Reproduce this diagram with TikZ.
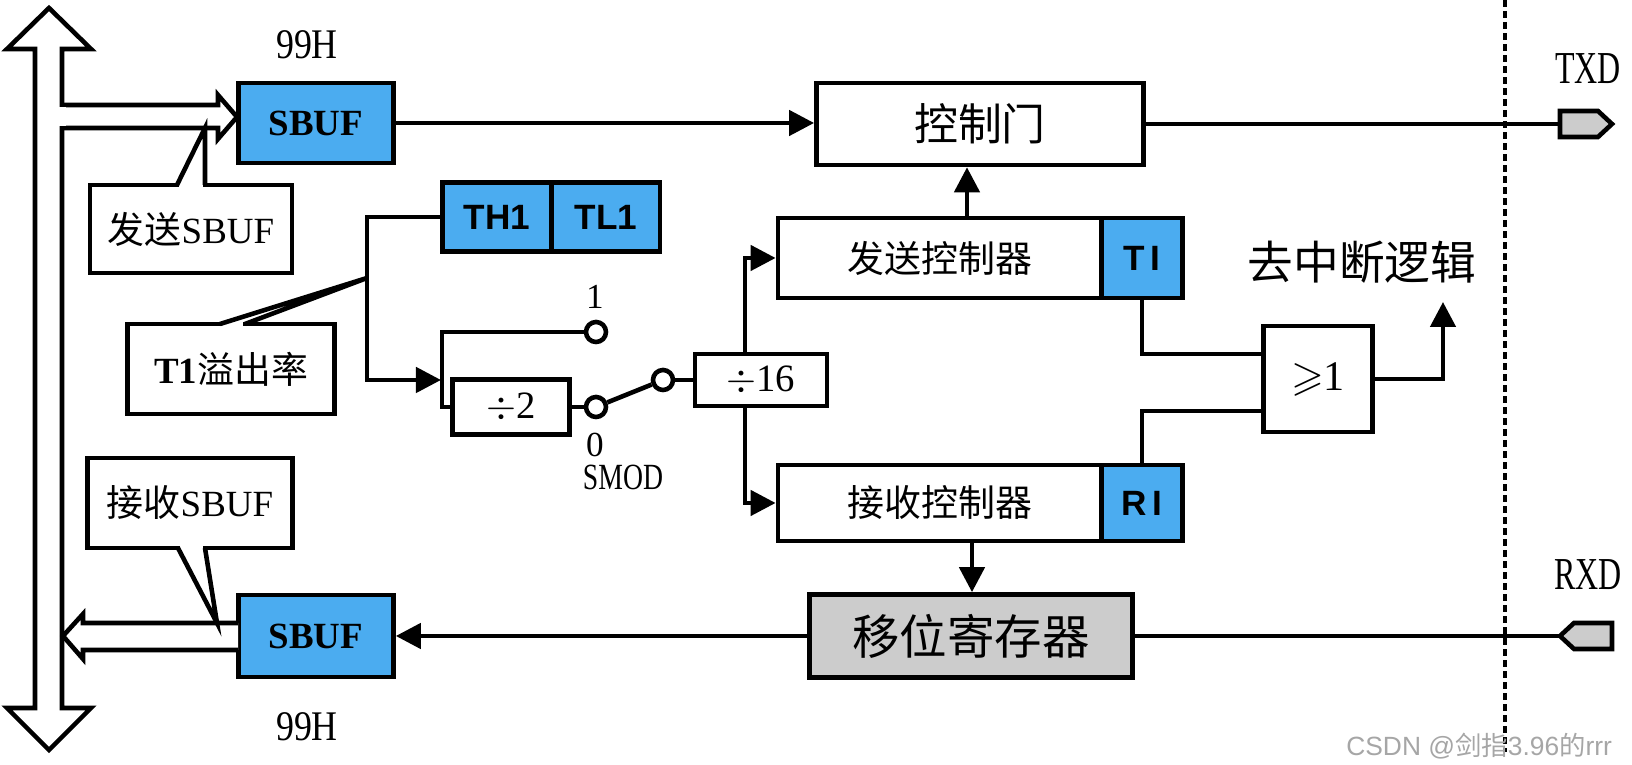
\documentclass[tikz,border=0pt]{standalone}
\usepackage{amssymb}
\usepackage{fontspec}
\usepackage{graphicx}
\setmainfont{Liberation Serif}
\newfontfamily\cjk{Noto Sans CJK SC}
\newfontfamily\hsans{Liberation Sans}
\usetikzlibrary{arrows.meta}
\definecolor{regblue}{HTML}{4BACF0}
\definecolor{pingray}{HTML}{CCCCCC}
\newcommand{\fsz}[1]{\fontsize{#1}{#1}\selectfont}
\newcommand{\cnd}[2][0.75]{\scalebox{#1}[1]{#2}}

\begin{document}
\begin{tikzpicture}[x=0.01cm,y=-0.01cm,line width=1.3pt,line join=miter,
  box/.style={draw,inner sep=0pt,fill=white},
  reg/.style={box,fill=regblue},
  arr/.style={-{Triangle[length=0.25cm,width=0.25cm]}},
  pin/.style={draw,fill=pingray},
  dot/.style={circle,draw,fill=white,inner sep=0pt,minimum size=0.2cm}]
  \useasboundingbox (0,0) rectangle (1632,765);

  % system bus (double arrow)
  \draw[fill=white] (35,708) -- (35,49) -- (7,49) -- (49,8) -- (91,49) -- (62,49)
    -- (62,708) -- (91,708) -- (49,750) -- (7,708) -- cycle;

  % bus -> send SBUF
  \draw[fill=white] (62,105) -- (218,105) -- (218,95) -- (237,117) -- (218,139)
    -- (218,128) -- (62,128);
  \draw[white,line width=2pt] (62,107) -- (62,126);

  % registers
  \node[reg,minimum width=1.55cm,minimum height=0.80cm] (sbt) at (316,123) {\fsz{10.5}\bfseries SBUF};
  \node[reg,minimum width=1.55cm,minimum height=0.82cm] (sbr) at (316,636) {\fsz{10.5}\bfseries SBUF};
  \node at (307,45) {\fsz{12}\cnd[0.85]{99H}};
  \node at (307,727) {\fsz{12}\cnd[0.85]{99H}};

  % receive SBUF -> bus
  \draw[fill=white] (238,623) -- (83,623) -- (83,614) -- (63,636) -- (83,659)
    -- (83,650) -- (238,650);

  % callouts
  \node[box,minimum width=2.02cm,minimum height=0.88cm] (cs1) at (191,229) {\fsz{10.5}{\cjk 发送}SBUF};
  \draw[white,line width=2pt] (179,185) -- (203,185);
  \draw (177,185) -- (205,128) -- (205,185);

  \node[box,minimum width=2.05cm,minimum height=0.90cm] (cs2) at (190,503) {\fsz{10.5}{\cjk 接收}SBUF};
  \draw[white,line width=2pt] (180,548) -- (203,548);
  \draw (178,548) -- (217,623) -- (205,548);

  \node[box,minimum width=2.07cm,minimum height=0.90cm] (ct1) at (231,369) {\fsz{10.5}\textbf{T1}{\cjk 溢出率}};
  \draw[white,line width=2pt] (222,324) -- (243,324);
  \draw (220,324) -- (367,278) -- (245,324);

  % timer 1
  \node[reg,minimum width=1.09cm,minimum height=0.69cm] (th1) at (497,217) {\fsz{10}\hsans\bfseries TH1};
  \node[reg,minimum width=1.08cm,minimum height=0.69cm] (tl1) at (606,217) {\fsz{10}\hsans\bfseries TL1};

  % dividers and SMOD switch
  \node[box,minimum width=1.17cm,minimum height=0.55cm] (div2) at (511,407) {\fsz{11}$\div$2};
  \node[box,minimum width=1.32cm,minimum height=0.52cm] (div16) at (761,380) {\fsz{11}$\div$16};
  \node[dot] (c1) at (596,332) {};
  \node[dot] (c0) at (596,407) {};
  \node[dot] (cs) at (663,380) {};
  \node at (595,297) {\fsz{10}1};
  \node at (595,445) {\fsz{10}0};
  \node at (623,477) {\fsz{10.5}\cnd{SMOD}};

  \coordinate (k1) at (367,380);
  \coordinate (jn) at (441,380);
  \coordinate (j1) at (442,332);
  \coordinate (j2) at (442,407);
  \draw[arr] (th1.west) -| (k1) -- (jn);
  \draw (c1.west) -- (j1) -- (j2) -- (div2.west);
  \draw (div2.east) -- (c0.west);
  \draw (c0) -- (cs);
  \draw (cs.east) -- (div16.west);

  % controllers
  \node[box,minimum width=3.27cm,minimum height=0.82cm] (ctl) at (980,124) {\fsz{12.5}\cjk 控制门};
  \node[box,minimum width=3.24cm,minimum height=0.80cm] (tx) at (940,258) {\fsz{10.5}\cjk 发送控制器};
  \node[reg,minimum width=0.81cm,minimum height=0.80cm] (ti) at (1142,258) {\fsz{10}\hsans\bfseries T\,I};
  \node[box,minimum width=3.24cm,minimum height=0.76cm] (rx) at (940,503) {\fsz{10.5}\cjk 接收控制器};
  \node[reg,minimum width=0.81cm,minimum height=0.76cm] (ri) at (1142,503) {\fsz{10}\hsans\bfseries R\,I};
  \node[box,fill=pingray,minimum width=3.23cm,minimum height=0.83cm] (shift) at (971,636) {\fsz{13.5}\cjk 移位寄存器};
  \node[box,minimum width=1.09cm,minimum height=1.06cm] (gate) at (1318,379) {\fsz{12}$\geqslant$1};
  \node at (1362,262) {\fsz{13}\cjk 去中断逻辑};

  \coordinate (v1) at (745,354);
  \coordinate (v2) at (745,406);
  \draw[arr] (v1) |- (tx.west);
  \draw[arr] (v2) |- (rx.west);
  \draw[arr] (sbt.east) -- (sbt.east -| ctl.west);
  \draw[arr] (tx.north -| 967,0) -- (ctl.south -| 967,0);
  \draw[arr] (rx.south -| 972,0) -- (shift.north -| 972,0);
  \draw[arr] (shift.west) -- (sbr.east);

  % interrupt logic
  \coordinate (gi1) at (1264,354);
  \coordinate (gi2) at (1264,411);
  \coordinate (gout) at (1443,302);
  \draw (ti.south) |- (gi1);
  \draw (ri.north) |- (gi2);
  \draw[arr] (gate.east) -| (gout);

  % pins
  \coordinate (txp) at (1560,124);
  \coordinate (rxp) at (1560,636);
  \draw (ctl.east) -- (txp);
  \draw[pin] (1560,111) -- (1598,111) -- (1612,124) -- (1598,137) -- (1560,137) -- cycle;
  \draw (shift.east) -- (rxp);
  \draw[pin] (1560,636) -- (1574,623) -- (1612,623) -- (1612,649) -- (1574,649) -- cycle;
  \node at (1588,69) {\fsz{13}\cnd[0.7]{TXD}};
  \node at (1588,575) {\fsz{13}\cnd[0.7]{RXD}};

  % chip boundary
  \draw[dash pattern=on 0.07cm off 0.04cm] (1505,0) -- (1505,752);

  % watermark
  \node[text=gray!70,anchor=east] at (1626,746) {\fsz{7.5}\hsans CSDN @{\cjk 剑指}3.96{\cjk 的}rrr};
\end{tikzpicture}
\end{document}
